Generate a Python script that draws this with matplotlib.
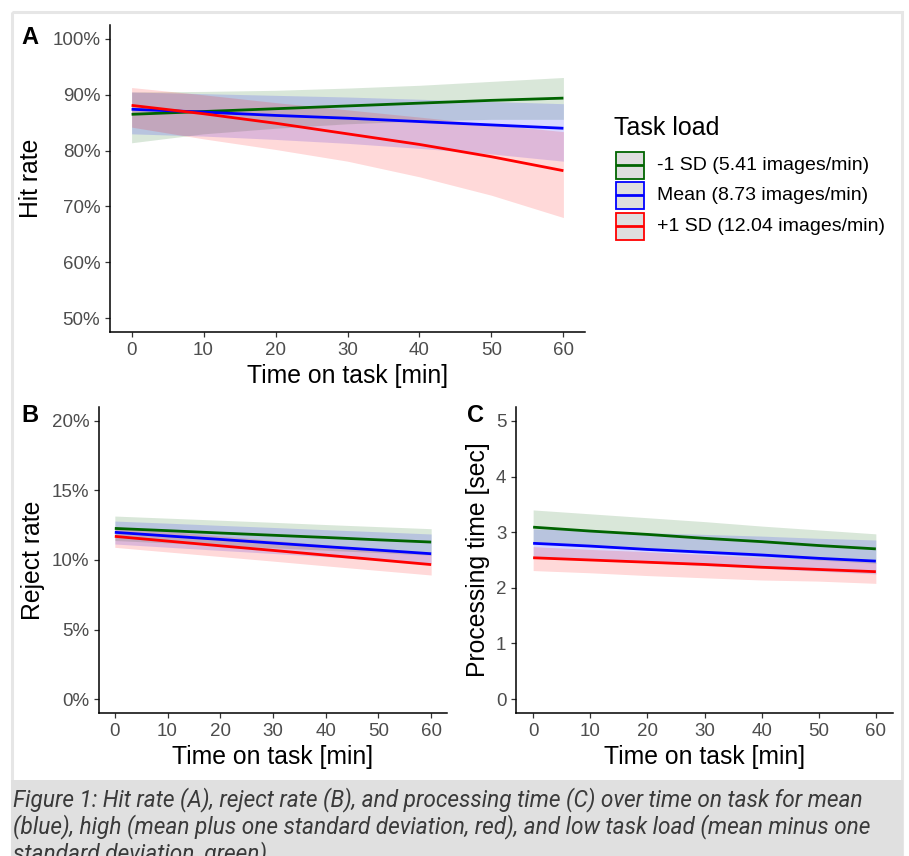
import matplotlib
matplotlib.use("Agg")
from matplotlib import pyplot as plt
from matplotlib.patches import Rectangle
import numpy as np

plt.rcParams['font.family'] = ['Liberation Sans', 'DejaVu Sans']

# time on task [min]
minutes = [0, 10, 20, 30, 40, 50, 60]

load_labels = ["-1 SD (5.41 images/min)", "Mean (8.73 images/min)", "+1 SD (12.04 images/min)"]
load_colors = ["#006400", "#0000FF", "#FF0000"]

# A: hit rate [%]
hit_fit = [
    [86.5, 87.0, 87.5, 88.0, 88.5, 89.0, 89.4],
    [87.4, 86.9, 86.3, 85.8, 85.2, 84.6, 84.0],
    [88.1, 86.6, 84.9, 83.0, 81.1, 78.9, 76.4],
]
hit_low = [
    [81.4, 83.0, 84.0, 84.8, 85.3, 85.6, 85.6],
    [83.0, 82.6, 82.0, 81.3, 80.4, 79.4, 78.1],
    [84.2, 82.1, 80.2, 78.1, 75.3, 72.0, 68.0],
]
hit_high = [
    [90.5, 90.6, 90.8, 91.2, 91.7, 92.4, 93.1],
    [90.5, 90.2, 89.9, 89.6, 89.2, 88.8, 88.4],
    [91.3, 90.0, 88.6, 87.3, 86.0, 84.7, 83.4],
]

# B: reject rate [%]
rej_fit = [
    [12.27, 12.11, 11.94, 11.78, 11.62, 11.45, 11.29],
    [11.99, 11.73, 11.48, 11.22, 10.96, 10.71, 10.45],
    [11.70, 11.36, 11.02, 10.69, 10.35, 10.01, 9.67],
]
rej_low = [
    [11.40, 11.23, 11.05, 10.88, 10.70, 10.53, 10.35],
    [11.15, 10.92, 10.69, 10.47, 10.24, 10.01, 9.78],
    [10.91, 10.58, 10.25, 9.92, 9.58, 9.25, 8.92],
]
rej_high = [
    [13.16, 13.01, 12.86, 12.71, 12.55, 12.40, 12.25],
    [12.80, 12.65, 12.49, 12.34, 12.18, 12.03, 11.87],
    [12.39, 12.07, 11.74, 11.41, 11.09, 10.76, 10.43],
]

# C: processing time [sec]
pt_fit = [
    [3.09, 3.02, 2.96, 2.89, 2.83, 2.76, 2.70],
    [2.80, 2.75, 2.69, 2.64, 2.59, 2.53, 2.48],
    [2.54, 2.50, 2.46, 2.42, 2.37, 2.33, 2.29],
]
pt_low = [
    [2.80, 2.74, 2.68, 2.62, 2.56, 2.50, 2.44],
    [2.55, 2.50, 2.45, 2.40, 2.35, 2.30, 2.25],
    [2.31, 2.27, 2.22, 2.18, 2.14, 2.12, 2.08],
]
pt_high = [
    [3.40, 3.33, 3.26, 3.19, 3.11, 3.04, 2.97],
    [3.06, 3.03, 2.99, 2.96, 2.93, 2.89, 2.86],
    [2.74, 2.69, 2.65, 2.60, 2.55, 2.51, 2.46],
]

W, H = 909, 856
fig = plt.figure(figsize=(W / 100, H / 100), dpi=100)


def px_axes(left, top, right, bottom):
    return fig.add_axes([left / W, 1 - bottom / H, (right - left) / W, (bottom - top) / H])


def panel(ax, fit, low, high, ylim, yticks, ylabels, ylabel, ylab_x, letter):
    x = np.array(minutes)
    for i in range(3):
        ax.fill_between(x, low[i], high[i], color=load_colors[i], alpha=0.15, lw=0)
    for i in range(3):
        ax.plot(x, fit[i], color=load_colors[i], lw=2.0, solid_capstyle='butt')
    ax.set_xlim(-3, 63)
    ax.set_ylim(*ylim)
    ax.set_xticks([0, 10, 20, 30, 40, 50, 60])
    ax.set_yticks(yticks)
    ax.set_yticklabels(ylabels)
    for s in ['top', 'right']:
        ax.spines[s].set_visible(False)
    for s in ['left', 'bottom']:
        ax.spines[s].set_linewidth(1.1)
    ax.tick_params(length=3.5, width=0.9, colors='#333333', labelcolor='#4d4d4d',
                   labelsize=13.5, pad=3.5)
    ax.set_xlabel("Time on task [min]", fontsize=17.8, color='black')
    ax.set_ylabel(ylabel, fontsize=17.8, color='black')
    ax.xaxis.set_label_coords(0.5, -0.143)
    ax.xaxis.label.set_va('center')
    ax.yaxis.set_label_coords(ylab_x, 0.5)
    ax.yaxis.label.set_va('center')
    ax.text(letter[0], letter[1], letter[2], transform=ax.transAxes, fontsize=17,
            fontweight='bold', ha='center', va='center')


axA = px_axes(110, 25, 585, 332)
panel(axA, hit_fit, hit_low, hit_high, (47.5, 102.5), [50, 60, 70, 80, 90, 100],
      ["50%", "60%", "70%", "80%", "90%", "100%"], "Hit rate", -0.166,
      ((30 - 110) / 475, (332 - 38) / 307, "A"))

axB = px_axes(99, 407, 447, 713)
panel(axB, rej_fit, rej_low, rej_high, (-1, 21), [0, 5, 10, 15, 20],
      ["0%", "5%", "10%", "15%", "20%"], "Reject rate", -0.19,
      ((30 - 99) / 348, (713 - 416) / 306, "B"))

axC = px_axes(516, 407, 893, 713)
panel(axC, pt_fit, pt_low, pt_high, (-0.25, 5.25), [0, 1, 2, 3, 4, 5],
      ["0", "1", "2", "3", "4", "5"], "Processing time [sec]", -0.1,
      ((476 - 516) / 377, (713 - 416) / 306, "C"))

# overlay in pixel coordinates: frame, legend, caption
ov = fig.add_axes([0, 0, 1, 1], zorder=-1)
ov.set_xlim(0, W)
ov.set_ylim(H, 0)
ov.axis('off')
ov.add_patch(Rectangle((12, 12), 890, 900, fill=False, ec='#e6e6e6', lw=2.2))
ov.add_patch(Rectangle((11, 780), 892, 80, fc='#e0e0e0', ec='none'))

leg = fig.add_axes([0, 0, 1, 1], zorder=3)
leg.set_xlim(0, W)
leg.set_ylim(H, 0)
leg.axis('off')
leg.text(614, 128, "Task load", fontsize=18, va='center', ha='left')
key_top = [151, 181, 212]
for i in range(3):
    y0 = key_top[i]
    leg.add_patch(Rectangle((615.5, y0 + 0.5), 28, 27, fc='#dedede', ec=load_colors[i], lw=1.3))
    leg.plot([617, 642], [y0 + 14, y0 + 14], color=load_colors[i], lw=2.0)
    leg.text(657, y0 + 14, load_labels[i], fontsize=14, va='center', ha='left')

caption = ("Figure 1: Hit rate (A), reject rate (B), and processing time (C) over time on task for mean\n"
           "(blue), high (mean plus one standard deviation, red), and low task load (mean minus one\n"
           "standard deviation, green).")
ov.text(13, 787, caption, fontsize=16.3, style='italic', color='#3a3a3a', va='top', ha='left',
        family=['Roboto', 'DejaVu Sans'], linespacing=1.1)

fig.savefig("out.png", dpi=100)
